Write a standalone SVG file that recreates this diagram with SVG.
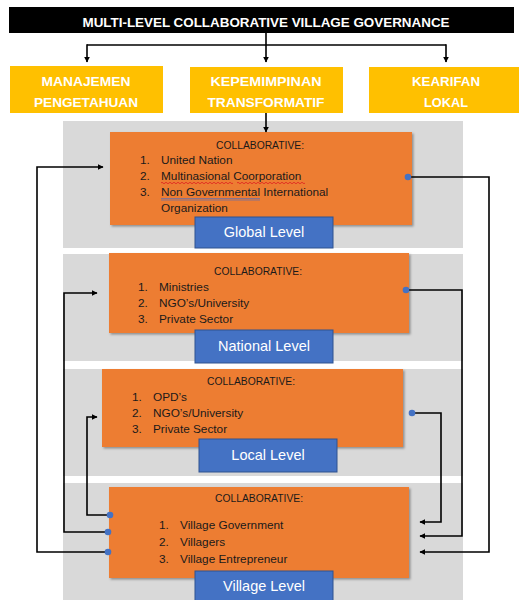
<svg xmlns="http://www.w3.org/2000/svg" width="519" height="600" viewBox="0 0 519 600">
<defs>
<style>
.title{font-family:"Liberation Sans",Arial,sans-serif;font-weight:bold;font-size:12.5px;fill:#fff}
.yt{font-family:"Liberation Sans",Arial,sans-serif;font-weight:bold;font-size:13.5px;fill:#fff;text-anchor:middle}
.org{fill:#ED7D31}
.panel{fill:#D9D9D9}
.blue{fill:#4472C4;stroke:#2F528F;stroke-width:1}
.bt{font-family:"Liberation Sans",Arial,sans-serif;font-size:14.5px;fill:#fff;text-anchor:middle}
.ot{font-family:"Liberation Sans",Arial,sans-serif;font-size:11.8px;fill:#1a1a1a}
.oc{text-anchor:middle}
.ln{fill:none;stroke:#000;stroke-width:1.6}
.dot{fill:#4472C4}
</style>
<marker id="ah" viewBox="0 0 10 10" refX="9" refY="5" markerWidth="6" markerHeight="6" markerUnits="userSpaceOnUse" orient="auto">
<path d="M0,0 L10,5 L0,10 z" fill="#000"/>
</marker>
<filter id="sh" x="-5%" y="-5%" width="112%" height="115%">
<feDropShadow dx="1.5" dy="1.5" stdDeviation="1.2" flood-color="#000" flood-opacity="0.35"/>
</filter>
</defs>
<rect width="519" height="600" fill="#fff"/>

<g id="title">
<rect x="9" y="7" width="505" height="26" fill="#000"/>
<text class="title" x="266" y="27" text-anchor="middle" textLength="367" lengthAdjust="spacingAndGlyphs">MULTI-LEVEL COLLABORATIVE VILLAGE GOVERNANCE</text>
</g>

<g id="manajemen">
<rect x="10" y="66" width="153" height="47" fill="#FFC000"/>
<text class="yt" x="86" y="86" textLength="89" lengthAdjust="spacingAndGlyphs">MANAJEMEN</text>
<text class="yt" x="86" y="107" textLength="104" lengthAdjust="spacingAndGlyphs">PENGETAHUAN</text>
</g>
<g id="kepemimpinan">
<rect x="190" y="67" width="153" height="46" fill="#FFC000"/>
<text class="yt" x="266" y="86" textLength="111" lengthAdjust="spacingAndGlyphs">KEPEMIMPINAN</text>
<text class="yt" x="266" y="107" textLength="117" lengthAdjust="spacingAndGlyphs">TRANSFORMATIF</text>
</g>
<g id="kearifan">
<rect x="369" y="67" width="150" height="46" fill="#FFC000"/>
<text class="yt" x="446" y="86" textLength="68" lengthAdjust="spacingAndGlyphs">KEARIFAN</text>
<text class="yt" x="446" y="107" textLength="44" lengthAdjust="spacingAndGlyphs">LOKAL</text>
</g>

<g id="panels">
<rect class="panel" x="63" y="121" width="400" height="127"/>
<rect class="panel" x="63" y="254" width="400" height="107"/>
<rect class="panel" x="63" y="369" width="400" height="107"/>
<rect class="panel" x="63" y="483" width="400" height="117"/>
</g>

<g id="global">
<rect class="org" x="110" y="132" width="302" height="93" filter="url(#sh)"/>
<text class="ot oc" x="260" y="149" textLength="88" lengthAdjust="spacingAndGlyphs">COLLABORATIVE:</text>
<text class="ot" x="140" y="164">1.</text><text class="ot" x="161" y="164">United Nation</text>
<text class="ot" x="140" y="180">2.</text><text class="ot" x="161" y="180">Multinasional Coorporation</text>
<text class="ot" x="140" y="196">3.</text><text class="ot" x="161" y="196">Non Governmental International</text>
<text class="ot" x="161" y="212">Organization</text>
<path d="M161,183 q1,-1.5 2,0 t2,0 t2,0 t2,0 t2,0 t2,0 t2,0 t2,0 t2,0 t2,0 t2,0 t2,0 t2,0 t2,0 t2,0 t2,0 t2,0 t2,0 t2,0 t2,0 t2,0 t2,0 t2,0 t2,0 t2,0 t2,0 t2,0 t2,0 t2,0 t2,0 t2,0 t2,0 t2,0 t2,0 t2,0 t2,0" fill="none" stroke="#e02020" stroke-width="0.8"/>
<path d="M237,183 q1,-1.5 2,0 t2,0 t2,0 t2,0 t2,0 t2,0 t2,0 t2,0 t2,0 t2,0 t2,0 t2,0 t2,0 t2,0 t2,0 t2,0 t2,0 t2,0 t2,0 t2,0 t2,0 t2,0 t2,0 t2,0 t2,0 t2,0 t2,0 t2,0 t2,0 t2,0 t2,0 t2,0 t2,0 t2,0" fill="none" stroke="#e02020" stroke-width="0.8"/>
<path d="M161,198.5 H260 M161,200 H260" fill="none" stroke="#5b6fb5" stroke-width="0.7"/>
<rect class="blue" x="195" y="217" width="138" height="31"/>
<text class="bt" x="264" y="237">Global Level</text>
</g>

<g id="national">
<rect class="org" x="109" y="253" width="300" height="80" filter="url(#sh)"/>
<text class="ot oc" x="258" y="275" textLength="88" lengthAdjust="spacingAndGlyphs">COLLABORATIVE:</text>
<text class="ot" x="138" y="291">1.</text><text class="ot" x="159" y="291">Ministries</text>
<text class="ot" x="138" y="307">2.</text><text class="ot" x="159" y="307">NGO’s/University</text>
<text class="ot" x="138" y="323">3.</text><text class="ot" x="159" y="323">Private Sector</text>
<rect class="blue" x="195" y="330" width="138" height="33"/>
<text class="bt" x="264" y="351">National Level</text>
</g>

<g id="local">
<rect class="org" x="102" y="369" width="301" height="78" filter="url(#sh)"/>
<text class="ot oc" x="251" y="385" textLength="88" lengthAdjust="spacingAndGlyphs">COLLABORATIVE:</text>
<text class="ot" x="132" y="401">1.</text><text class="ot" x="153" y="401">OPD’s</text>
<text class="ot" x="132" y="417">2.</text><text class="ot" x="153" y="417">NGO’s/University</text>
<text class="ot" x="132" y="433">3.</text><text class="ot" x="153" y="433">Private Sector</text>
<rect class="blue" x="199" y="439" width="138" height="33"/>
<text class="bt" x="268" y="460">Local Level</text>
</g>

<g id="village">
<rect class="org" x="109" y="487" width="300" height="91" filter="url(#sh)"/>
<text class="ot oc" x="259" y="502" textLength="88" lengthAdjust="spacingAndGlyphs">COLLABORATIVE:</text>
<text class="ot" x="159" y="529">1.</text><text class="ot" x="180" y="529">Village Government</text>
<text class="ot" x="159" y="546">2.</text><text class="ot" x="180" y="546">Villagers</text>
<text class="ot" x="159" y="563">3.</text><text class="ot" x="180" y="563">Village Entrepreneur</text>
<rect class="blue" x="195" y="571" width="138" height="33"/>
<text class="bt" x="264" y="591">Village Level</text>
</g>

<g id="connectors">
<path class="ln" d="M266,33 V62" marker-end="url(#ah)"/>
<path class="ln" d="M87,45 H446"/>
<path class="ln" d="M87,44.2 V62" marker-end="url(#ah)"/>
<path class="ln" d="M446,44.2 V62" marker-end="url(#ah)"/>
<path class="ln" d="M266,113 V132" marker-end="url(#ah)"/>

<path class="ln" d="M408,177 H489 V552 H420" marker-end="url(#ah)"/>
<path class="ln" d="M406,290 H462 V536 H420" marker-end="url(#ah)"/>
<path class="ln" d="M412,413 H441 V522 H420" marker-end="url(#ah)"/>

<path class="ln" d="M108,552 H37 V167 H103" marker-end="url(#ah)"/>
<path class="ln" d="M108,532 H64 V293 H97" marker-end="url(#ah)"/>
<path class="ln" d="M110,515 H87 V417 H97" marker-end="url(#ah)"/>

<circle class="dot" cx="408" cy="177" r="3.3"/>
<circle class="dot" cx="406" cy="290" r="3.3"/>
<circle class="dot" cx="412" cy="413" r="3.3"/>
<circle class="dot" cx="108" cy="552" r="3.3"/>
<circle class="dot" cx="108" cy="532" r="3.3"/>
<circle class="dot" cx="110" cy="515" r="3.3"/>
</g>
</svg>
